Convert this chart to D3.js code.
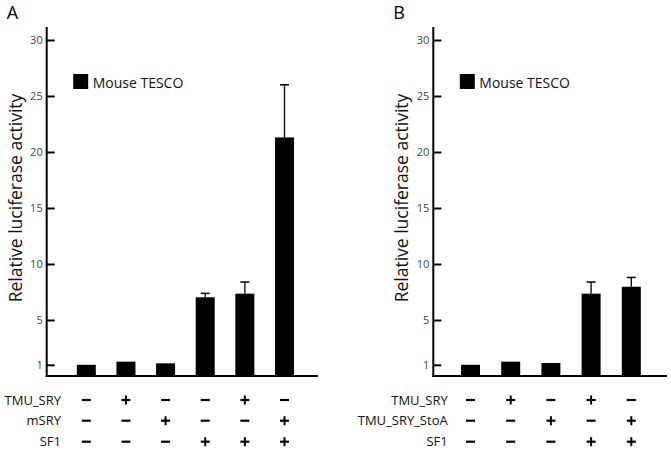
<!DOCTYPE html>
<html>
<head>
<meta charset="utf-8">
<script src="https://cdn.jsdelivr.net/npm/d3@7"></script>
<style>
  body { margin: 0; background: #fff; }
  text { font-family: "Open Sans", "Noto Sans", sans-serif; }
</style>
</head>
<body>
<svg id="chart" width="671" height="451"></svg>
<script>
// panel A data
var valuesA = [1.0, 1.28, 1.13, 7.03, 7.35, 21.3];
var errorsA = [0, 0.05, 0.04, 0.35, 1.04, 4.7];
var rowNamesA = ["TMU_SRY", "mSRY", "SF1"];
var signsA = [
	["-", "+", "-", "-", "+", "-"],
	["-", "-", "+", "-", "-", "+"],
	["-", "-", "-", "+", "+", "+"]
];

// panel B data
var valuesB = [1.0, 1.28, 1.16, 7.35, 7.97];
var errorsB = [0, 0.04, 0.04, 1.04, 0.83];
var rowNamesB = ["TMU_SRY", "TMU_SRY_StoA", "SF1"];
var signsB = [
	["-", "+", "-", "+", "-"],
	["-", "-", "+", "-", "+"],
	["-", "-", "-", "+", "+"]
];

var yTicks = [1, 5, 10, 15, 20, 25, 30];
var legendLabel = "Mouse TESCO";
var yLabel = "Relative luciferase activity";

var svg = d3.select("#chart");

var y = d3.scaleLinear().domain([0, 30]).range([376, 40]);
var barWidth = 19;

function drawPanel(opts) {
	var g = svg.append("g").attr("class", "panel");
	var x = d3.scaleLinear().domain([0, opts.values.length - 1]).range(opts.centers);

	// panel letter
	g.append("text")
		.attr("x", opts.axisX - 40)
		.attr("y", 19)
		.attr("font-size", 18)
		.text(opts.letter);

	// y label
	g.append("text")
		.attr("transform", "translate(" + (opts.axisX - 25) + "," + 198 + ") rotate(-90)")
		.attr("text-anchor", "middle")
		.attr("font-size", 17.5)
		.attr("fill", "#111")
		.text(yLabel);

	// bars
	g.selectAll("rect.bar").data(opts.values).enter().append("rect")
		.attr("class", "bar")
		.attr("x", function(d, i) { return x(i) - barWidth / 2; })
		.attr("y", function(d) { return y(d); })
		.attr("width", barWidth)
		.attr("height", function(d) { return y(0) - y(d); })
		.attr("fill", "#000");

	// error bars (upper only)
	var errs = opts.values.map(function(v, i) { return { v: v, e: opts.errors[i], i: i }; })
		.filter(function(d) { return d.e > 0.2; });
	g.selectAll("line.err").data(errs).enter().append("line")
		.attr("class", "err")
		.attr("x1", function(d) { return x(d.i); })
		.attr("x2", function(d) { return x(d.i); })
		.attr("y1", function(d) { return y(d.v); })
		.attr("y2", function(d) { return y(d.v + d.e); })
		.attr("stroke", "#111").attr("stroke-width", 1.4);
	g.selectAll("line.cap").data(errs).enter().append("line")
		.attr("class", "cap")
		.attr("x1", function(d) { return x(d.i) - 4.5; })
		.attr("x2", function(d) { return x(d.i) + 4.5; })
		.attr("y1", function(d) { return y(d.v + d.e); })
		.attr("y2", function(d) { return y(d.v + d.e); })
		.attr("stroke", "#111").attr("stroke-width", 1.6);

	// y axis
	var axis = d3.axisRight(y).tickValues(yTicks).tickSize(8).tickFormat(d3.format("d"));
	var ag = g.append("g").attr("transform", "translate(" + opts.axisX + ",0)").call(axis);
	ag.select(".domain").remove();
	ag.selectAll(".tick line").attr("stroke", "#000").attr("stroke-width", 2);
	ag.selectAll(".tick text")
		.attr("x", -4)
		.attr("text-anchor", "end")
		.attr("font-size", 11)
		.attr("font-family", "Open Sans, sans-serif")
		.attr("fill", "#444");
	g.append("line")
		.attr("x1", opts.axisX).attr("x2", opts.axisX)
		.attr("y1", 27).attr("y2", y(0) + 1)
		.attr("stroke", "#000").attr("stroke-width", 2);

	// x axis line
	g.append("line")
		.attr("x1", opts.axisX - 1).attr("x2", opts.xEnd)
		.attr("y1", y(0)).attr("y2", y(0))
		.attr("stroke", "#000").attr("stroke-width", 2);

	// legend
	g.append("rect")
		.attr("x", opts.axisX + 26.5).attr("y", 74)
		.attr("width", 15).attr("height", 15)
		.attr("fill", "#000");
	g.append("text")
		.attr("x", opts.axisX + 46)
		.attr("y", 87.5)
		.attr("font-size", 14)
		.attr("fill", "#111")
		.text(legendLabel);

	// sign table
	var rowY = [400, 420.7, 441.7];
	opts.rowNames.forEach(function(name, r) {
		g.append("text")
			.attr("x", opts.labelX)
			.attr("y", rowY[r] + 4.5)
			.attr("text-anchor", "end")
			.attr("font-size", 13)
			.attr("fill", "#111")
			.text(name);
		opts.signs[r].forEach(function(s, i) {
			var cx = x(i), cy = rowY[r];
			g.append("line")
				.attr("x1", cx - 4.5).attr("x2", cx + 4.5)
				.attr("y1", cy).attr("y2", cy)
				.attr("stroke", "#000").attr("stroke-width", 2.2);
			if (s === "+") {
				g.append("line")
					.attr("x1", cx).attr("x2", cx)
					.attr("y1", cy - 4.5).attr("y2", cy + 4.5)
					.attr("stroke", "#000").attr("stroke-width", 2);
			}
		});
	});
}

drawPanel({
	letter: "A", axisX: 46.7, xEnd: 318,
	centers: [86.3, 284.5],
	values: valuesA, errors: errorsA,
	rowNames: rowNamesA, signs: signsA, labelX: 61
});

drawPanel({
	letter: "B", axisX: 433.3, xEnd: 667,
	centers: [470.5, 631.3],
	values: valuesB, errors: errorsB,
	rowNames: rowNamesB, signs: signsB, labelX: 447.7
});
</script>
</body>
</html>
